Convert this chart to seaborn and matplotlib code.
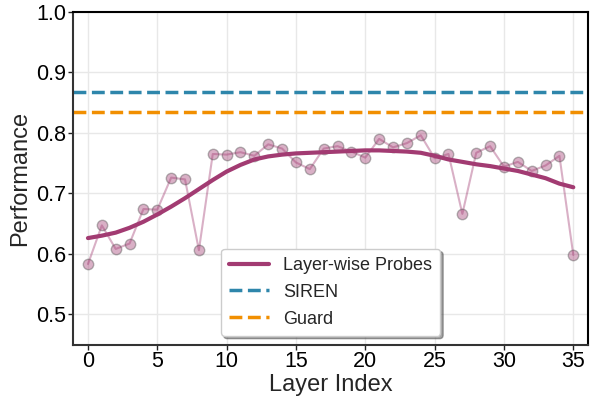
import numpy as np
import pandas as pd
import matplotlib
matplotlib.use("Agg")
import matplotlib.pyplot as plt
import seaborn as sns

layers = list(range(36))
raw_perf = [0.583, 0.647, 0.608, 0.617, 0.674, 0.673, 0.726, 0.723, 0.606, 0.765,
            0.764, 0.768, 0.762, 0.781, 0.774, 0.751, 0.740, 0.774, 0.778, 0.769,
            0.759, 0.790, 0.776, 0.783, 0.796, 0.758, 0.765, 0.666, 0.767, 0.778,
            0.744, 0.752, 0.737, 0.746, 0.762, 0.598]
smooth_perf = [0.626, 0.630, 0.635, 0.643, 0.653, 0.665, 0.678, 0.692, 0.707, 0.722,
               0.736, 0.747, 0.756, 0.761, 0.764, 0.766, 0.767, 0.768, 0.769, 0.770,
               0.771, 0.771, 0.770, 0.769, 0.767, 0.762, 0.756, 0.752, 0.748, 0.745,
               0.741, 0.737, 0.731, 0.725, 0.716, 0.710]
siren_value = 0.867
guard_value = 0.834

labels = {"probe": "Layer-wise Probes", "siren": "SIREN", "guard": "Guard"}
colors = {"probe": "#A23B72", "siren": "#2E86AB", "guard": "#F18F01"}

df = pd.DataFrame({"layer": layers, "raw": raw_perf, "smooth": smooth_perf})

sns.set_style("whitegrid")
plt.rcParams["font.family"] = ["Liberation Sans", "DejaVu Sans"]

fig = plt.figure(figsize=(5.92, 3.96), dpi=100)
ax = fig.add_axes([0.124, 0.13, 0.869, 0.84])

sns.lineplot(data=df, x="layer", y="raw", ax=ax, color=colors["probe"], alpha=0.4,
             linewidth=1.5, marker="o", markersize=7.5, markerfacecolor=(0.635, 0.231, 0.447, 0.45),
             markeredgecolor=(0.3, 0.3, 0.3, 0.6), markeredgewidth=1.0, legend=False)
sns.lineplot(data=df, x="layer", y="smooth", ax=ax, color=colors["probe"], linewidth=3,
             label=labels["probe"])
ax.axhline(siren_value, color=colors["siren"], linestyle="--", linewidth=2.5, label=labels["siren"])
ax.axhline(guard_value, color=colors["guard"], linestyle="--", linewidth=2.5, label=labels["guard"])

ax.set_xlim(-1.05, 36.05)
ax.set_ylim(0.45, 1.0)
ax.set_xticks([0, 5, 10, 15, 20, 25, 30, 35])
ax.set_yticks([0.5, 0.6, 0.7, 0.8, 0.9, 1.0])
ax.tick_params(axis="both", labelsize=15.5, length=3.5, width=1, colors="#222222",
               left=True, bottom=True, labelcolor="black", pad=1.5)
ax.set_xlabel("Layer Index", fontsize=17, labelpad=1)
ax.set_ylabel("Performance", fontsize=17, labelpad=4)
ax.grid(True, color="#e8e8e8", linewidth=1)
for side, sp in ax.spines.items():
    sp.set_color("#333333" if side in ("left", "bottom") else "black")
    sp.set_linewidth(1.5)

leg = ax.legend(loc="lower center", bbox_to_anchor=(0.5, 0.026), borderaxespad=0,
                fontsize=13, frameon=True, fancybox=True, shadow=True, handlelength=2.2,
                borderpad=0.45, labelspacing=0.55, framealpha=1)
leg.get_frame().set_edgecolor("#cccccc")

fig.savefig("out.png", dpi=100)
